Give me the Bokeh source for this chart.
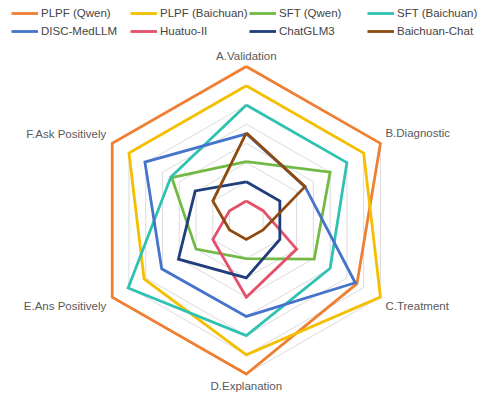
import numpy as np
from bokeh.plotting import figure
from bokeh.models import Range1d, Legend, LegendItem, ColumnDataSource
from bokeh.core.properties import value
from bokeh.embed import file_html
from bokeh.resources import INLINE

# ---- data (radial score, grid ring units 0..8) ----
axes_labels = ["A.Validation", "B.Diagnostic", "C.Treatment",
               "D.Explanation", "E.Ans Positively", "F.Ask Positively"]
series_names = ["PLPF (Qwen)", "PLPF (Baichuan)", "SFT (Qwen)", "SFT (Baichuan)",
                "DISC-MedLLM", "Huatuo-II", "ChatGLM3", "Baichuan-Chat"]
plpf_qwen      = [8.0, 8.0, 6.6, 8.0, 8.0, 8.0]
plpf_baichuan  = [7.0, 7.0, 8.0, 7.0, 6.1, 7.0]
sft_qwen       = [3.05, 5.0, 4.05, 2.0, 3.0, 4.45]
sft_baichuan   = [6.0, 6.0, 5.0, 6.0, 7.05, 4.5]
disc_medllm    = [4.5, 3.5, 6.5, 5.0, 5.05, 6.05]
huatuo_ii      = [1.0, 1.0, 3.0, 4.0, 2.0, 1.0]
chatglm3       = [2.0, 2.0, 2.0, 3.0, 4.05, 3.05]
baichuan_chat  = [4.55, 3.5, 1.0, 1.0, 1.0, 2.0]
grid_levels    = [1, 2, 3, 4, 5, 6, 7, 8]

series_values = [plpf_qwen, plpf_baichuan, sft_qwen, sft_baichuan,
                 disc_medllm, huatuo_ii, chatglm3, baichuan_chat]
colors = ["#EE7F33", "#F5BF00", "#72BA45", "#2EC2B2",
          "#4673CB", "#E5506A", "#203D7C", "#8F4A10"]

# axis angles: A at top, clockwise
angles = np.deg2rad(90 - 60 * np.arange(6))

def poly(vals):
    v = np.asarray(vals, dtype=float)
    xs = v * np.cos(angles)
    ys = v * np.sin(angles)
    return list(np.append(xs, xs[0])), list(np.append(ys, ys[0]))

W, H = 481, 394
p = figure(width=W, height=H, output_backend="svg", toolbar_location=None,
           x_range=Range1d(-12.7, 12.15), y_range=Range1d(-9.065, 11.435),
           min_border=0)
p.axis.visible = False
p.grid.visible = False
p.outline_line_color = None
p.background_fill_color = "white"
p.border_fill_color = "white"

# grid rings
gx, gy = [], []
for lv in grid_levels:
    x, y = poly([lv] * 6)
    gx.append(x); gy.append(y)
p.multi_line(gx, gy, line_color="#DCDCDC", line_width=1)

# series
renderers = []
for name, vals, col in zip(series_names, series_values, colors):
    x, y = poly(vals)
    r = p.line(x, y, line_color=col, line_width=2.8, line_join="miter")
    renderers.append(r)

# axis labels
outer = max(grid_levels)
lx = list(outer * np.cos(angles))
ly = list(outer * np.sin(angles))
aligns = ["center", "left", "left", "center", "right", "right"]
xoff = [0, 5, 5, 0, -6, -6]
yoff = [-11, -10, 9, 12, 9, -9]
src = ColumnDataSource(dict(x=lx, y=ly, t=axes_labels, a=aligns, xo=xoff, yo=yoff))
p.text(x="x", y="y", text="t", source=src, text_align="a", x_offset="xo", y_offset="yo",
       text_baseline="middle", text_font=value("Liberation Sans"),
       text_font_size="11.5px", text_color="#595959")

# legend: 4 columns of equal width, 2 rows each
col_x = [11, 130, 249, 367]
for c in range(4):
    items = [LegendItem(label=series_names[c], renderers=[renderers[c]]),
             LegendItem(label=series_names[c + 4], renderers=[renderers[c + 4]])]
    lg = Legend(items=items, orientation="vertical", location=(col_x[c], H - 38),
                glyph_width=27, glyph_height=14, label_height=14, label_standoff=3,
                spacing=4, padding=0, margin=0, border_line_color=None,
                background_fill_alpha=0, label_text_font="Liberation Sans",
                label_text_font_size="11.5px", label_text_color="#444444")
    p.add_layout(lg, "center")

open("out.html", "w").write(file_html(p, INLINE))
